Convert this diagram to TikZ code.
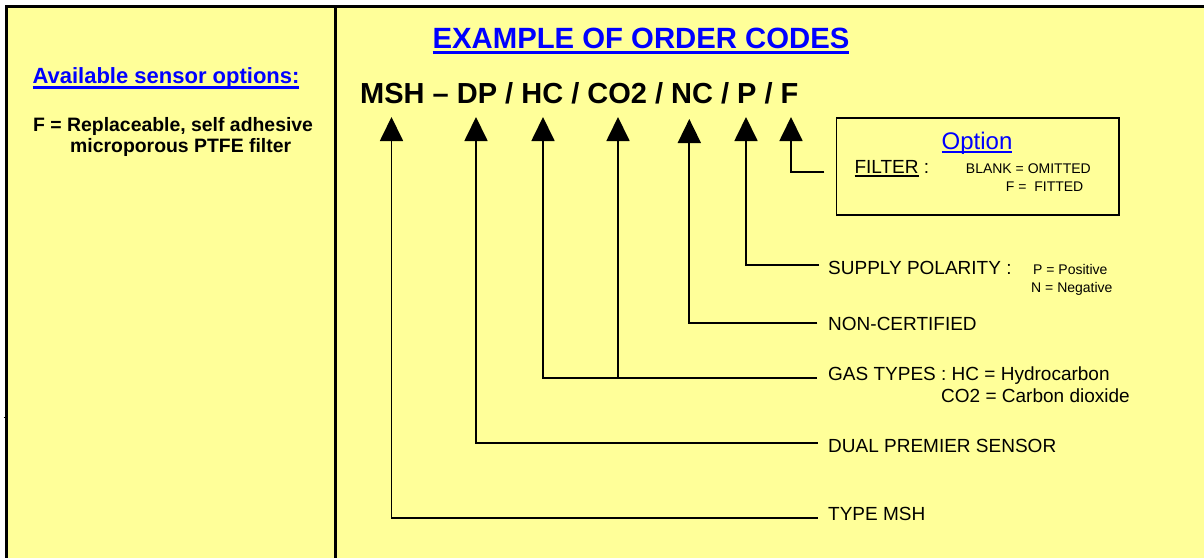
\documentclass[tikz,border=0pt]{standalone}
\usepackage{fontspec}
\setmainfont{Liberation Sans}
\usetikzlibrary{arrows.meta}
\definecolor{bg}{HTML}{FFFF99}
\newcommand\myul[3]{\setbox0\hbox{#3}\rlap{\rule[-#1]{\wd0}{#2}}\box0\relax}
\begin{document}
\begin{tikzpicture}[x=1pt,y=-1pt,
  txt/.style={inner sep=0pt, anchor=base west, font=\fontsize{19}{22}\selectfont},
  smalltxt/.style={inner sep=0pt, anchor=base west, font=\fontsize{14}{16}\selectfont},
  boldtxt/.style={inner sep=0pt, anchor=base west, font=\bfseries\fontsize{19.4}{22}\selectfont},
  conn/.style={line width=1.8pt, -{Triangle[width=23pt,length=24pt]}},
]
\useasboundingbox (0,0) rectangle (1204,557);
\fill[white] (0,0) rectangle (1204,557);
% frame
\draw[line width=3pt, fill=bg] (6.5,6.5) rectangle (1220,575);
\draw[line width=3pt] (335,6.5) -- (335,575);
\draw[line width=1pt] (3.5,417.7) -- (6,417.7);

% left panel
\node[inner sep=0pt, anchor=base, text=blue, font=\bfseries\fontsize{22}{26}\selectfont] (avail) at (166,83.3) {\myul{5.2pt}{2.5pt}{Available sensor options:}};
\node[boldtxt] (fo1) at (33,131.7) {F = Replaceable, self adhesive};
\node[boldtxt] (fo2) at (70,152.5) {microporous PTFE filter};

% title and code
\node[inner sep=0pt, anchor=base, text=blue, font=\bfseries\fontsize{29.3}{34}\selectfont] (title) at (641,48) {\myul{5.5pt}{3pt}{EXAMPLE OF ORDER CODES}};
\node[inner sep=0pt, anchor=base west, font=\bfseries\fontsize{29}{34}\selectfont] (code) at (360,103) {MSH \textendash{} DP / HC / CO2 / NC / P / F};

% option box
\node[draw, line width=1.5pt, minimum width=282.3pt, minimum height=97pt, anchor=north west, inner sep=0pt] (optbox) at (835.7,117) {};
\node[inner sep=0pt, anchor=base, text=blue, font=\fontsize{24}{28}\selectfont] (opt) at (977,149.3) {\myul{3.3pt}{1.5pt}{Option}};
\node[txt] (filt) at (854.3,173.3) {\myul{4pt}{2pt}{FILTER} :};
\node[smalltxt] (blank) at (965.7,173.3) {BLANK = OMITTED};
\node[smalltxt] (fitted) at (1005.7,191) {F =\ \ FITTED};

% labels
\node[txt] (supply) at (828,274) {SUPPLY POLARITY :};
\node[smalltxt] (pos) at (1033,274) {P = Positive};
\node[smalltxt] (neg) at (1031,292.3) {N = Negative};
\node[txt] (noncert) at (828,330) {NON-CERTIFIED};
\node[txt] (gas) at (828,380) {GAS TYPES : HC = Hydrocarbon};
\node[txt] (co2) at (941,402.3) {CO2 = Carbon dioxide};
\node[txt] (dual) at (828,452.7) {DUAL PREMIER SENSOR};
\node[txt] (tmsh) at (828,520.7) {TYPE MSH};

% arrow tips and lead ends
\coordinate (aMSH) at (391.5,117);
\coordinate (aDP) at (476,117);
\coordinate (aHC) at (543,117);
\coordinate (aCO) at (618,117);
\coordinate (aNC) at (689.3,119);
\coordinate (aP) at (746,117);
\coordinate (aF) at (791,117);
\coordinate (eF) at (824.3,172.3);
\coordinate (eP) at (819,265);
\coordinate (eNC) at (817.3,323.3);
\coordinate (eGas) at (817,378.3);
\coordinate (jCO) at (618,378.3);
\coordinate (eDP) at (817.5,443.3);
\coordinate (eMSH) at (817.5,518.3);

\draw[conn] (eF) -| (aF);
\draw[conn] (eP) -| (aP);
\draw[conn] (eNC) -| (aNC);
\draw[conn] (eGas) -| (aHC);
\draw[conn] (jCO) -- (aCO);
\draw[conn] (eDP) -| (aDP);
\draw[conn] (eMSH) -| (aMSH);
\end{tikzpicture}
\end{document}
